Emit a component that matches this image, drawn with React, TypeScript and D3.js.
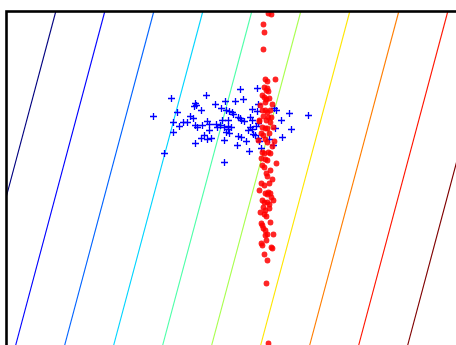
import React from "react";
import * as d3 from "d3";

const WIDTH = 456;
const HEIGHT = 345;

// Class A samples (blue crosses)
const blueX = [
  -1.9, -1.2, -2.26, -1.78, -1.42, -1.4, -1.44, -1.3, -1.02, -0.82, -0.9, -0.8,
  -1.52, -1.46, -1.86, -1.66, -1.58, -1.74, -1.42, -1.38, -1.28, -1.18, -1.14,
  -1.86, -1.0, -0.98, -0.92, -0.88, -0.84, -0.76, -0.76, -1.14, -0.8, -1.24,
  -1.3, -1.18, -1.1, -1.42, -0.84, -2.04, -0.84, -0.52, -0.18, -0.46, -0.62,
  -0.16, -0.28, -0.32, -0.18, 0.16, 0.2, 0.3, 0.84, -0.74, -0.68, -0.66, -0.56,
  -0.52, -0.5, -0.44, -0.28, -0.7, -0.76, -0.32, -0.28, -0.36, -0.16, -0.2,
  0.18, 0.5, -0.26, -0.22, -0.56, -0.5, -0.4, -0.74, -0.16, -0.14, 0.06, 0.32,
  -0.58, -0.34, -0.1, 0.14, 0.46,
];
const blueY = [
  0.56, 0.62, 0.2, 0.28, 0.46, 0.42, 0.4, 0.32, 0.44, 0.5, 0.36, 0.32, 0.2,
  0.16, 0.08, 0.08, 0.08, 0.0, 0.02, -0.02, 0.02, 0.1, 0.04, -0.12, 0.04, -0.02,
  0.02, 0.12, -0.02, 0.0, 0.12, -0.08, -0.12, -0.18, -0.24, -0.26, -0.24, -0.34,
  -0.28, -0.54, -0.72, 0.74, 0.76, 0.54, 0.5, 0.44, 0.34, 0.18, 0.3, 0.36, 0.32,
  0.12, 0.22, 0.3, 0.28, 0.24, 0.18, 0.16, 0.12, 0.1, 0.12, -0.02, -0.06, -0.02,
  -0.06, -0.08, 0.06, 0.0, -0.04, -0.06, -0.16, -0.18, -0.2, -0.22, -0.3, -0.14,
  -0.24, -0.3, -0.26, -0.22, -0.38, -0.5, -0.44, -0.38, 0.26,
];

// Class B samples (red dots)
const redX = [
  0.04, 0.1, -0.06, -0.04, -0.06, -0.02, 0.02, 0.18, -0.04, 0.02, 0.04, -0.04,
  0.0, -0.02, 0.06, -0.08, -0.02, 0.02, 0.08, -0.06, 0.04, 0.1, 0.0, 0.08,
  -0.08, -0.02, 0.02, -0.1, -0.06, 0.06, -0.02, 0.02, -0.08, -0.04, 0.04, 0.08,
  -0.02, 0.02, -0.08, -0.04, 0.2, 0.0, 0.02, -0.1, -0.04, 0.06, 0.12, -0.02,
  0.02, 0.04, 0.08, 0.1, -0.08, -0.04, 0.02, 0.06, -0.06, -0.02, 0.06, -0.04,
  0.0, -0.1, -0.08, -0.06, -0.02, -0.02, 0.02, 0.14, -0.1, -0.08, 0.1, 0.12,
  -0.04, 0.02, 0.0, 0.04, -0.14, 0.16, -0.12, 0.12, -0.14, 0.14, -0.16, 0.12,
  -0.1, 0.08, -0.14, 0.14, -0.12, 0.08, 0.0, 0.0, -0.08,
];
const redY = [
  2.26, 2.24, 2.04, 1.88, 1.54, 0.94, 0.9, 0.94, 0.78, 0.76, 0.7, 0.58, 0.54,
  0.48, 0.56, 0.32, 0.32, 0.28, 0.32, 0.2, 0.18, 0.18, 0.12, 0.08, -0.02, -0.04,
  -0.04, -0.14, -0.18, -0.14, -0.26, -0.32, -0.52, -0.54, -0.52, -0.54, -0.66,
  -0.68, -0.78, -0.82, -0.74, -0.94, -1.0, -1.14, -1.18, -1.14, -1.06, -1.34,
  -1.36, -1.32, -1.34, -1.42, -1.48, -1.52, -1.52, -1.56, -1.62, -1.68, -1.64,
  -1.76, -1.8, -1.94, -1.98, -2.04, -2.08, -2.18, -2.16, -2.16, -2.34, -2.38,
  -2.42, -2.44, -2.56, -2.68, -3.14, -4.34, 0.1, -0.3, 0.42, 0.44, 0.12, -0.02,
  -0.28, -0.4, -0.64, -0.88, -1.28, -1.48, -1.72, -1.92, -2.28, 0.72, 0.62,
];

// Linear decision function f(x, y) = w0*x + w1*y + b, drawn at these levels
const weights = [1.0204, -0.2724];
const intercept = 4.927;
const levels = [0, 1, 2, 3, 4, 5, 6, 7, 8, 9];

// Jet colormap, piecewise linear per channel
const jetR = d3.scaleLinear().domain([0, 0.35, 0.66, 0.89, 1]).range([0, 0, 1, 1, 0.5]).clamp(true);
const jetG = d3.scaleLinear().domain([0, 0.125, 0.375, 0.64, 0.91, 1]).range([0, 0, 1, 1, 0, 0]).clamp(true);
const jetB = d3.scaleLinear().domain([0, 0.11, 0.34, 0.65, 1]).range([0.5, 1, 1, 0, 0]).clamp(true);
const jet = (t: number) =>
  d3.rgb(jetR(t) * 255, jetG(t) * 255, jetB(t) * 255).formatHex();

export default function App() {
  const x = d3.scaleLinear().domain([-5.2, 4.8]).range([6.5, 506.5]);
  const y = d3.scaleLinear().domain([-4.7, 2.3]).range([361.5, 11.5]);
  const [x0, x1] = x.range();
  const [y0, y1] = y.range();
  const [yLo, yHi] = y.domain();
  const lvlColor = d3.scaleLinear().domain(d3.extent(levels) as [number, number]).range([0, 1]);

  const solveX = (level: number, yv: number) =>
    (level - intercept - weights[1] * yv) / weights[0];

  return (
    <svg
      width={WIDTH}
      height={HEIGHT}
      style={{ position: "absolute", left: 0, top: 0, background: "#fff" }}
    >
      <defs>
        <clipPath id="plot-area">
          <rect x={x0} y={y1} width={x1 - x0} height={y0 - y1} />
        </clipPath>
      </defs>
      <g clipPath="url(#plot-area)">
        {levels.map((lv) => (
          <line
            key={lv}
            x1={x(solveX(lv, yLo))}
            y1={y(yLo)}
            x2={x(solveX(lv, yHi))}
            y2={y(yHi)}
            stroke={jet(lvlColor(lv))}
            strokeWidth={1.1}
          />
        ))}
        {blueX.map((bx, i) => (
          <path
            key={"b" + i}
            transform={`translate(${x(bx)},${y(blueY[i])})`}
            d="M-3.5,0H3.5M0,-3.5V3.5"
            stroke="#0000ff"
            strokeWidth={1.3}
            fill="none"
          />
        ))}
        {redX.map((rx, i) => (
          <circle
            key={"r" + i}
            cx={x(rx)}
            cy={y(redY[i])}
            r={2.9}
            fill="#ff0000"
            fillOpacity={0.85}
          />
        ))}
      </g>
      <rect
        x={x0}
        y={y1}
        width={x1 - x0}
        height={y0 - y1}
        fill="none"
        stroke="#000"
        strokeWidth={2.6}
      />
    </svg>
  );
}
